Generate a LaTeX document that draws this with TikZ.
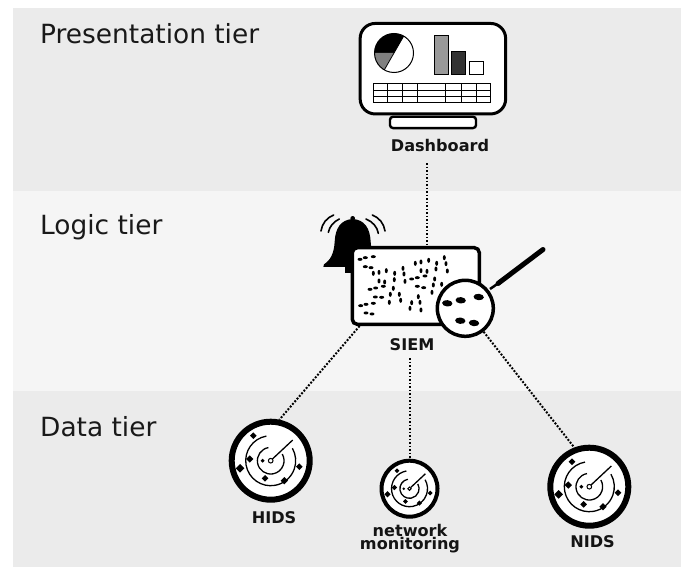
\documentclass[tikz,border=0pt]{standalone}
\usepackage{fontspec}
\setmainfont{DejaVu Sans}
\usepackage{xcolor}
\usetikzlibrary{positioning}

\definecolor{banddark}{HTML}{EBEBEB}
\definecolor{bandlight}{HTML}{F5F5F5}

\tikzset{
  tierlabel/.style={anchor=base west, inner sep=0pt, font=\fontsize{26.4}{30}\selectfont, text=black!90},
  toollabel/.style={align=center, inner sep=1pt, font=\fontsize{16.1}{13}\selectfont\bfseries, text=black!92},
  link/.style={line width=2pt, dash pattern=on 1.9pt off 1.6pt},
  ring/.style={circle, draw=black, fill=white, inner sep=0pt},
  speck/.style={fill=black},
  radar/.pic={
    \draw[line width=1pt] (0,0) circle (7);
    \draw[line width=1.3pt] (5,-5) -- (66,-62);
    \draw[line width=1.3pt] (-100:40) arc[start angle=-100, end angle=-390, radius=40];
    \draw[line width=1.3pt] (-100:75) arc[start angle=-100, end angle=-390, radius=75];
    \foreach \dx/\dy/\rr in {-52/-75/10, -63/-5/11, -92/23/13, -24/0/6, -17/53/10, 41/60/11, 86/18/10}{
      \fill (\dx,\dy) +(-\rr,0) -- +(0,-\rr) -- +(\rr,0) -- +(0,\rr) -- cycle;
    }
  }
}

\begin{document}
\begin{tikzpicture}[x=1pt, y=-1pt]
  \useasboundingbox (0,0) rectangle (684,567);

  % tiers
  \fill[banddark]  (13,8)   rectangle (681,191);
  \fill[bandlight] (13,191) rectangle (681,391);
  \fill[banddark]  (13,391) rectangle (681,567);
  \node[tierlabel] (presentation) at (40,44)  {Presentation tier};
  \node[tierlabel] (logic)        at (40,234) {Logic tier};
  \node[tierlabel] (data)         at (40,436) {Data tier};

  % dashboard
  \node[draw=black, fill=white, line width=3pt, rounded corners=15pt, minimum width=145.5pt, minimum height=90.5pt, inner sep=0pt] (monitor) at (432.9,68.7) {};
  \node[draw=black, fill=white, line width=2.4pt, rounded corners=3pt, minimum width=86pt, minimum height=11.3pt, inner sep=0pt] (stand) at (433,122.4) {};
  \node[toollabel] (dashboard) at (440,145.5) {Dashboard};

  \fill[white] (394,53) circle (19.5);
  \fill[black] (394,53) -- (374.5,53) arc[start angle=180, end angle=300, radius=19.5] -- cycle;
  \fill[black!50] (394,53) -- (374.5,53) arc[start angle=180, end angle=120, radius=19.5] -- cycle;
  \draw[line width=1pt] (394,53) circle (19.5);
  \draw[line width=.8pt] (403.7,36.1) -- (384.3,69.9);
  \draw[line width=.8pt, fill=black!40] (434.3,35.7) rectangle (448.3,74.3);
  \draw[line width=.8pt, fill=black!80] (451.7,51.7) rectangle (465.7,74.3);
  \draw[line width=.8pt, fill=white]    (469.7,61.3) rectangle (483.7,74.3);
  \draw[line width=.8pt, fill=white]    (373.3,83.7) rectangle (490.7,102);
  \foreach \vx in {387.3,402.7,417.3,445,461.7,476.7}{
    \draw[line width=.8pt] (\vx,83.7) -- (\vx,102);
  }
  \foreach \hy in {90,96}{
    \draw[line width=.8pt] (373.3,\hy) -- (490.7,\hy);
  }

  % bell, in the units of its own small grid
  \begin{scope}[shift={(310,205)}, x=.3333pt, y=-.3333pt]
    \fill (128,40) circle (7);
    \fill (128,42) .. controls (92,44) and (76,70) .. (74,110)
      .. controls (72,145) and (62,165) .. (42,178) -- (40,186) -- (216,186) -- (214,178)
      .. controls (194,165) and (184,145) .. (182,110)
      .. controls (180,70) and (164,44) .. (128,42) -- cycle;
    \fill (104,186) rectangle (128,203);
    \draw[line width=1.6pt, line cap=round] (33,78) .. controls (36,56) and (50,38) .. (71,30);
    \draw[line width=1.6pt, line cap=round] (55,82) .. controls (58,66) and (70,50) .. (88,42);
    \draw[line width=1.6pt, line cap=round] (225,78) .. controls (222,56) and (208,38) .. (187,30);
    \draw[line width=1.6pt, line cap=round] (205,85) .. controls (202,66) and (188,50) .. (168,42);
  \end{scope}

  % siem
  \node[draw=black, fill=white, line width=3.5pt, rounded corners=5pt, minimum width=127pt, minimum height=76.6pt, inner sep=0pt] (siem) at (415.8,286) {};
  \begin{scope}[shift={(310,205)}, x=.3333pt, y=-.3333pt]
    \foreach \sx/\sy in {150/163,166/158,190/155,166/185,183/188,180/253,197/249,220/244,196/276,215/277,
        152/302,168/298,190/295,168/324,186/327,305/222,322/218,345/213,322/244,341/248}{
      \fill[speck] (\sx,\sy) ellipse (7.5 and 4.5);
    }
    \foreach \sx/\sy in {190/205,207/202,229/197,207/228,224/231,254/205,253/224,250/250,279/190,282/207,
        285/229,241/268,238/292,268/268,272/286,305/293,300/310,325/275,330/292,333/315,316/175,333/171,
        356/166,333/197,351/199,380/175,378/192,374/222,370/240,366/262,395/238,403/158,408/176,412/198}{
      \fill[speck] (\sx,\sy) ellipse (4.5 and 7.5);
    }
  \end{scope}
  \node[toollabel] (siemlabel) at (412,344.5) {SIEM};

  % magnifier
  \draw[line width=5pt, line cap=round] (498,283.5) -- (543,249.5);
  \draw[line width=2.5pt] (490,289) -- (498,283.5);
  \node[ring, line width=3.5pt, minimum size=56pt] (lens) at (465.3,308.3) {};
  \foreach \lx/\ly in {447.3/303.3,460.7/300.3,478.7/297,460.3/320.7,474/323}{
    \fill[rotate around={-5:(\lx,\ly)}] (\lx,\ly) ellipse (5.2 and 3.2);
  }

  % sensors
  \node[ring, line width=6pt, minimum size=78pt] (hids) at (270.7,460.7) {};
  \pic[scale=.3333] at (hids) {radar};
  \node[toollabel] (hidslabel) at (274,517.5) {HIDS};

  \node[ring, line width=4pt, minimum size=56pt] (netmon) at (409.5,488.7) {};
  \pic[scale=.24] at (netmon) {radar};
  \node[toollabel] (netmonlabel) at (410,538.5) {network\\monitoring};

  \node[ring, line width=6pt, minimum size=78pt] (nids) at (589.3,486.7) {};
  \pic[scale=.3333] at (nids) {radar};
  \node[toollabel] (nidslabel) at (592.5,542) {NIDS};

  % connectors
  \coordinate (dashfoot) at (427,163);
  \coordinate (siemfoot) at (409.5,358);
  \draw[link] (dashfoot) -- (dashfoot |- siem.north);
  \draw[link] ([xshift=9pt]siem.south west) -- (hids.78);
  \draw[link] (siemfoot) -- (netmon.north);
  \draw[link] (lens.-52) -- (nids.111);
\end{tikzpicture}
\end{document}
